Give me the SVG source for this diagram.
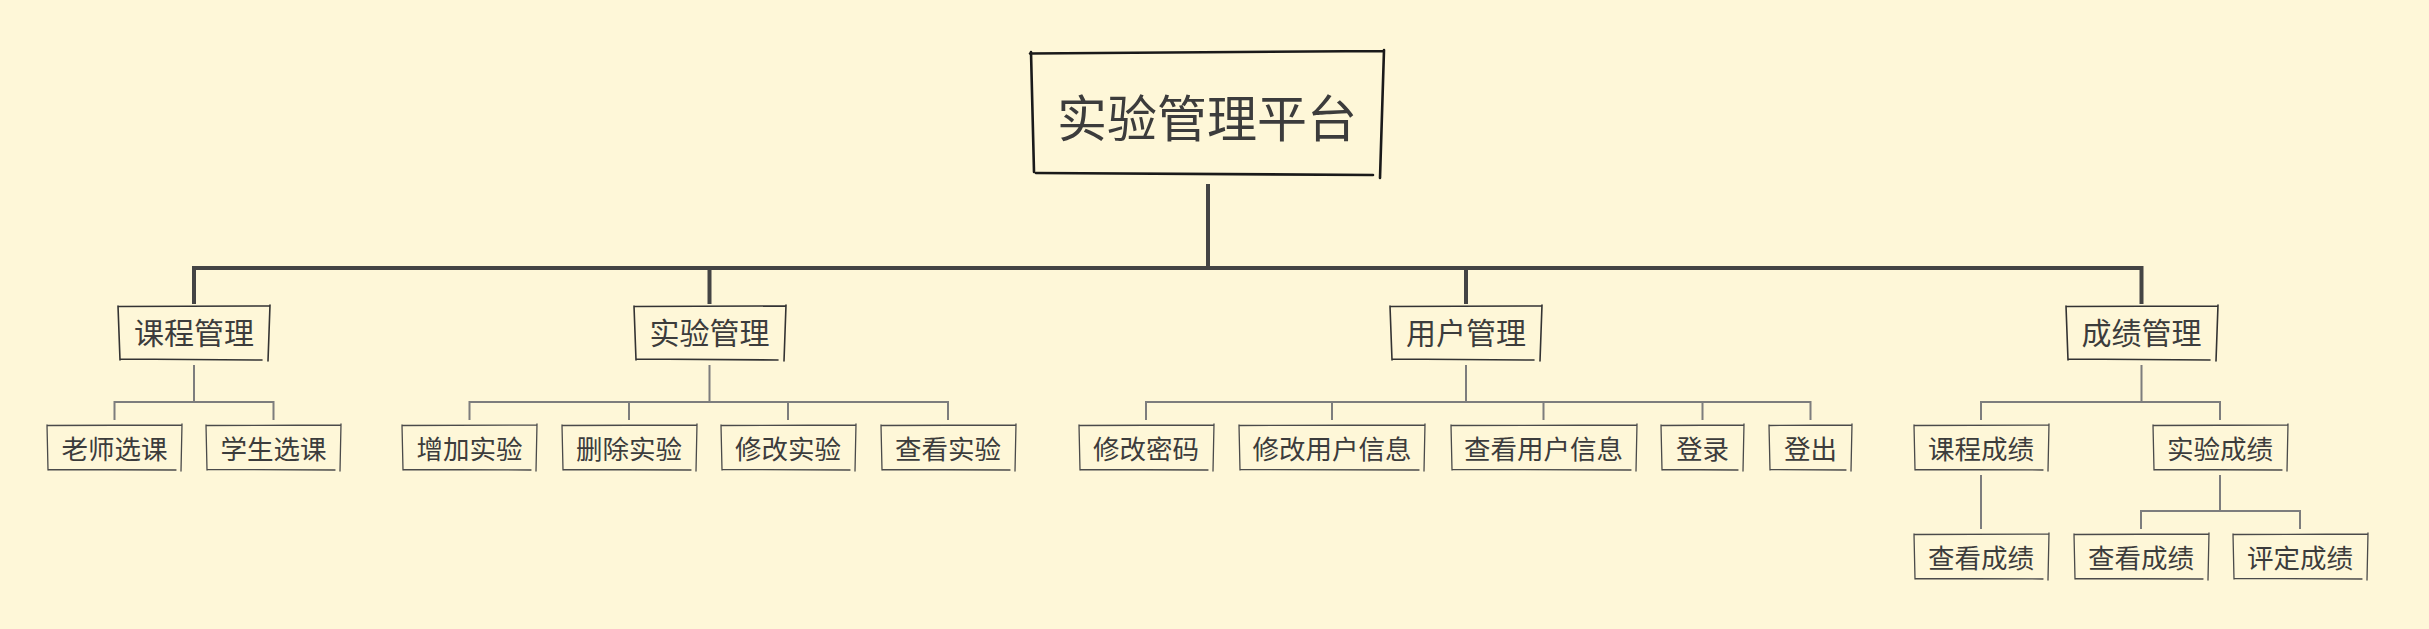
<svg xmlns="http://www.w3.org/2000/svg" width="2429" height="629" viewBox="0 0 2429 629">
<style>
.bg{fill:#FEF7D8}
.main{stroke:#444;stroke-width:4;fill:none;stroke-linecap:butt}
.sub{stroke:#7d7d7d;stroke-width:2;fill:none}
.rootbox{stroke:#1a1a1a;stroke-width:2.6;fill:none;stroke-linecap:round}
.l1box{stroke:#333;stroke-width:1.6;fill:none;stroke-linecap:round}
.l2box{stroke:#4a4a4a;stroke-width:1.3;fill:none;stroke-linecap:round}
text{font-family:"Noto Sans CJK SC","Noto Sans",sans-serif;fill:#3c3c3c;text-anchor:middle}
.t0{font-size:50px}
.t1{font-size:30px}
.t2{font-size:26.5px}
</style>
<rect class="bg" x="0" y="0" width="2429" height="629"/>
<g id="connectors">
<path class="main" d="M1208 184V268M194 268H2142M194 266V304M709.5 266V304M1466 266V304M2141.5 266V304"/>
<path class="sub" d="M194 365V402M114.5 420V402H273.5V420"/>
<path class="sub" d="M709.5 365V402M469.5 420V402H948V420M629 402V420M788 402V420"/>
<path class="sub" d="M1466 365V402M1146 420V402H1810.5V420M1332 402V420M1543.5 402V420M1702.5 402V420"/>
<path class="sub" d="M2141.5 365V402M1981 420V402H2220V420"/>
<path class="sub" d="M1981 475V529"/>
<path class="sub" d="M2220 475V511M2141 529V511H2300V529"/>
</g>
<g id="root">
<path class="rootbox" d="M1030 53.5L1383 51M1384 50L1380 178M1373 175L1036 173M1034 172L1031 52"/>
<text class="t0" x="1207" y="137">实验管理平台</text>
</g>
<g id="n-kecheng">
<path class="l1box" d="M118 306.5L270 306M270 305L268 361M262 360L120 359M120 360L118 306"/>
<text class="t1" x="194" y="344">课程管理</text>
</g>
<g id="n-shiyan">
<path class="l1box" d="M634 306.5L786 306M786 305L784 361M778 360L636 359M636 360L634 306"/>
<text class="t1" x="709.5" y="344">实验管理</text>
</g>
<g id="n-yonghu">
<path class="l1box" d="M1390 306.5L1542 306M1542 305L1540 361M1534 360L1392 359M1392 360L1390 306"/>
<text class="t1" x="1466" y="344">用户管理</text>
</g>
<g id="n-chengji">
<path class="l1box" d="M2066 306.5L2218 306M2218 305L2216 361M2210 360L2068 359M2068 360L2066 306"/>
<text class="t1" x="2141.5" y="344">成绩管理</text>
</g>
<g id="n-laoshi">
<path class="l2box" d="M47 425.5L182 425M182 424L181 471M176 470L48 469.5M48 470L47 425"/>
<text class="t2" x="114.5" y="458.5">老师选课</text>
</g>
<g id="n-xuesheng">
<path class="l2box" d="M206 425.5L341 425M341 424L340 471M335 470L207 469.5M207 470L206 425"/>
<text class="t2" x="273.5" y="458.5">学生选课</text>
</g>
<g id="n-zengjia">
<path class="l2box" d="M402 425.5L537 425M537 424L536 471M531 470L403 469.5M403 470L402 425"/>
<text class="t2" x="469.5" y="458.5">增加实验</text>
</g>
<g id="n-shanchu">
<path class="l2box" d="M562 425.5L697 425M697 424L696 471M691 470L563 469.5M563 470L562 425"/>
<text class="t2" x="629" y="458.5">删除实验</text>
</g>
<g id="n-xiugai-sy">
<path class="l2box" d="M721 425.5L856 425M856 424L855 471M850 470L722 469.5M722 470L721 425"/>
<text class="t2" x="788" y="458.5">修改实验</text>
</g>
<g id="n-chakan-sy">
<path class="l2box" d="M881 425.5L1016 425M1016 424L1015 471M1010 470L882 469.5M882 470L881 425"/>
<text class="t2" x="948" y="458.5">查看实验</text>
</g>
<g id="n-mima">
<path class="l2box" d="M1079 425.5L1214 425M1214 424L1213 471M1208 470L1080 469.5M1080 470L1079 425"/>
<text class="t2" x="1146" y="458.5">修改密码</text>
</g>
<g id="n-xiugai-yh">
<path class="l2box" d="M1239 425.5L1425 425M1425 424L1424 471M1419 470L1240 469.5M1240 470L1239 425"/>
<text class="t2" x="1332" y="458.5">修改用户信息</text>
</g>
<g id="n-chakan-yh">
<path class="l2box" d="M1451 425.5L1637 425M1637 424L1636 471M1631 470L1452 469.5M1452 470L1451 425"/>
<text class="t2" x="1543.5" y="458.5">查看用户信息</text>
</g>
<g id="n-denglu">
<path class="l2box" d="M1661 425.5L1744 425M1744 424L1743 471M1738 470L1662 469.5M1662 470L1661 425"/>
<text class="t2" x="1702.5" y="458.5">登录</text>
</g>
<g id="n-dengchu">
<path class="l2box" d="M1769 425.5L1852 425M1852 424L1851 471M1846 470L1770 469.5M1770 470L1769 425"/>
<text class="t2" x="1810.5" y="458.5">登出</text>
</g>
<g id="n-kc-cj">
<path class="l2box" d="M1914 425.5L2049 425M2049 424L2048 471M2043 470L1915 469.5M1915 470L1914 425"/>
<text class="t2" x="1981" y="458.5">课程成绩</text>
</g>
<g id="n-sy-cj">
<path class="l2box" d="M2153 425.5L2288 425M2288 424L2287 471M2282 470L2154 469.5M2154 470L2153 425"/>
<text class="t2" x="2220" y="458.5">实验成绩</text>
</g>
<g id="n-chakan-cj1">
<path class="l2box" d="M1914 534.5L2049 534M2049 533L2048 580M2043 579L1915 578.5M1915 579L1914 534"/>
<text class="t2" x="1981" y="567.5">查看成绩</text>
</g>
<g id="n-chakan-cj2">
<path class="l2box" d="M2074 534.5L2209 534M2209 533L2208 580M2203 579L2075 578.5M2075 579L2074 534"/>
<text class="t2" x="2141" y="567.5">查看成绩</text>
</g>
<g id="n-pingding">
<path class="l2box" d="M2233 534.5L2368 534M2368 533L2367 580M2362 579L2234 578.5M2234 579L2233 534"/>
<text class="t2" x="2300" y="567.5">评定成绩</text>
</g>
</svg>
